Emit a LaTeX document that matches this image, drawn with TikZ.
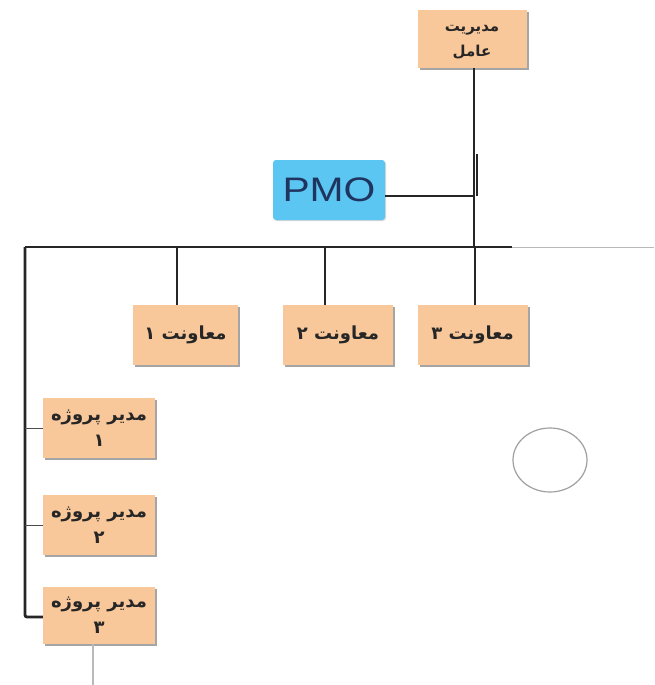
\documentclass[tikz,border=0pt]{standalone}
\usepackage{fontspec}
\usepackage{graphicx}
\setmainfont{Liberation Sans}
\newfontfamily\arabicfont[Script=Arabic]{DejaVu Sans}
\TeXXeTstate=1
\usetikzlibrary{shadows,shapes.geometric}
\definecolor{peach}{HTML}{F9C89A}
\definecolor{pmoblue}{HTML}{5CC6F2}
\definecolor{pmotext}{HTML}{1F3560}
\begin{document}
\begin{tikzpicture}[x=1pt,y=-1pt,
  box/.style={draw=none, fill=peach,
    drop shadow={shadow xshift=2pt,shadow yshift=-2pt,fill=black!50,opacity=0.7},
    inner sep=0pt, align=center, text=black!85,
    font=\arabicfont\bfseries\fontsize{18}{26}\selectfont},
  trunk/.style={line width=2.8pt, black!85},
  twig/.style={line width=1pt, black!70},
  faint/.style={line width=1pt, gray!55}]
\useasboundingbox (0,0) rectangle (654,685);
\fill[white] (0,0) rectangle (654,685);

% nodes
\node[box, minimum width=109, minimum height=58,
  font=\arabicfont\bfseries\fontsize{15}{25}\selectfont] (gm) at (472,39)
  {\raisebox{-4pt}{\begin{tabular}{@{}c@{}}\beginR مدیریت\endR\\\beginR عامل\endR\end{tabular}}};
\node[fill=pmoblue, rounded corners=3pt, minimum width=112, minimum height=60,
  inner sep=0pt, text=pmotext, font=\fontsize{34}{34}\selectfont,
  drop shadow={shadow xshift=1pt,shadow yshift=-1pt,fill=black!30,opacity=0.5}]
  (pmo) at (329,190) {\scalebox{1.2}[1]{PMO}};
\node[box, minimum width=105, minimum height=60] (m1) at (185.5,335)
  {\beginR معاونت ۱\endR};
\node[box, minimum width=110, minimum height=60] (m2) at (338,335)
  {\beginR معاونت ۲\endR};
\node[box, minimum width=110, minimum height=60] (m3) at (472.5,335)
  {\beginR معاونت ۳\endR};
\node[box, minimum width=112, minimum height=60] (p1) at (99,428)
  {\beginR مدیر پروژه\endR\\۱};
\node[box, minimum width=112, minimum height=60] (p2) at (99,525)
  {\beginR مدیر پروژه\endR\\۲};
\node[box, minimum width=112, minimum height=57] (p3) at (99,615)
  {\beginR مدیر پروژه\endR\\۳};
\node[draw=gray!75, line width=1.2pt, ellipse, minimum width=74,
  minimum height=64, inner sep=0pt] (circ) at (550,460) {};

% coordinates
\coordinate (t0) at (474,247);
\coordinate (j1) at (474,196);
\coordinate (j2) at (477,154);
\coordinate (bl) at (25,247);
\coordinate (br) at (512,247);
\coordinate (bend) at (654,247);
\coordinate (b1) at (177,247);
\coordinate (b2) at (325,247);
\coordinate (b3) at (475,247);
\coordinate (l1) at (25,428);
\coordinate (l2) at (25,525);
\coordinate (lb) at (25,617);
\coordinate (pe) at (93,685);

% connectors
\draw[trunk] (gm.south -| t0) -- (t0);
\draw[line width=1.8pt, black!85] (pmo.east |- j1) -- (j1);
\draw[line width=1.8pt, black!85] (j2) -- (j2 |- j1);
\draw[trunk] (bl) -- (br);
\draw[faint] (br) -- (bend);
\draw[trunk] (b1) -- (b1 |- m1.north);
\draw[trunk] (b2) -- (b2 |- m2.north);
\draw[trunk] (b3) -- (b3 |- m3.north);
\draw[trunk, rounded corners=2pt] (bl) -- (lb) -- (lb -| p3.west);
\draw[twig] (l1) -- (l1 -| p1.west);
\draw[twig] (l2) -- (l2 -| p2.west);
\draw[faint, line width=1.4pt] (p3.south -| pe) -- (pe);
\end{tikzpicture}
\end{document}
